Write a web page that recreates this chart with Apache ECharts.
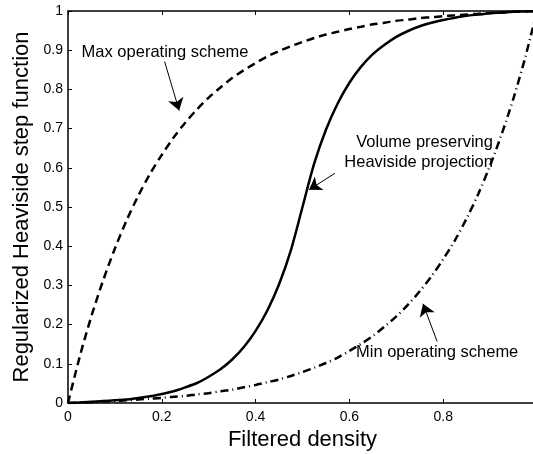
<!DOCTYPE html>
<html>
<head>
<meta charset="utf-8">
<script src="https://cdn.jsdelivr.net/npm/echarts@6/dist/echarts.min.js"></script>
<style>
  html, body { margin: 0; padding: 0; background: #fff; }
  #main { width: 533px; height: 454px; }
</style>
</head>
<body>
<div id="main"></div>
<script>
// filtered density samples
let xs = [0, 0.025, 0.05, 0.075, 0.1, 0.125, 0.15, 0.175, 0.2, 0.225, 0.25, 0.275, 0.3, 0.325, 0.35, 0.375,
  0.4, 0.425, 0.45, 0.475, 0.5, 0.525, 0.55, 0.575, 0.6, 0.625, 0.65, 0.675, 0.7, 0.725, 0.75, 0.775,
  0.8, 0.825, 0.85, 0.875, 0.9, 0.925, 0.95, 0.975, 1];

// max operating scheme (dashed)
let maxScheme = [0, 0.118, 0.222, 0.313, 0.394, 0.466, 0.529, 0.585, 0.633, 0.677, 0.715, 0.749, 0.779, 0.805, 0.829, 0.849,
  0.867, 0.884, 0.898, 0.910, 0.921, 0.931, 0.940, 0.947, 0.954, 0.960, 0.966, 0.970, 0.975, 0.978, 0.982, 0.984,
  0.987, 0.989, 0.991, 0.993, 0.995, 0.996, 0.998, 0.999, 1];

// min operating scheme (dash-dot)
let minScheme = [0, 0.001, 0.002, 0.004, 0.005, 0.007, 0.009, 0.011, 0.013, 0.016, 0.018, 0.022, 0.025, 0.030, 0.034, 0.040,
  0.046, 0.053, 0.060, 0.069, 0.079, 0.090, 0.102, 0.116, 0.133, 0.151, 0.171, 0.195, 0.221, 0.251, 0.285, 0.323,
  0.367, 0.415, 0.471, 0.534, 0.606, 0.687, 0.778, 0.882, 1];

// volume preserving heaviside projection (solid)
let volPreserving = [0, 0.001, 0.003, 0.005, 0.007, 0.009, 0.013, 0.017, 0.023, 0.030, 0.040, 0.051, 0.067, 0.086, 0.111, 0.143,
  0.184, 0.236, 0.303, 0.389, 0.5, 0.611, 0.697, 0.764, 0.817, 0.858, 0.890, 0.914, 0.934, 0.949, 0.961, 0.970,
  0.977, 0.983, 0.988, 0.991, 0.994, 0.996, 0.998, 0.999, 1];

let font = 'Liberation Sans, Arial, Helvetica, sans-serif';

let pairs = function (ys) {
  let res = [];
  for (let i = 0; i < xs.length; i++) {
    res.push([xs[i], ys[i]]);
  }
  return res;
};

let fmt = function (v) {
  return String(+v.toFixed(1));
};

let axisBase = {
  type: 'value',
  min: 0,
  max: 1,
  axisLine: { show: true, onZero: false, lineStyle: { color: '#000', width: 1.5 } },
  axisTick: { show: true, inside: true, length: 4, lineStyle: { color: '#000', width: 1 } },
  splitLine: { show: false }
};

// arrow + text annotations
let arrowMark = function (from, to) {
  return {
    silent: true,
    symbol: ['none', 'arrow'],
    symbolSize: 12,
    label: { show: false },
    lineStyle: { color: '#000', width: 1, type: 'solid' },
    data: [[{ coord: from }, { coord: to }]]
  };
};
let textMark = function (text, coord, pos) {
  return {
    silent: true,
    symbol: 'circle',
    symbolSize: 0,
    label: {
      show: true, position: pos, distance: 0, align: pos === 'left' ? 'right' : 'left',
      lineHeight: 20, fontFamily: font, fontSize: 16.5, color: '#000', formatter: text
    },
    data: [{ name: 'note', coord: coord }]
  };
};

let chart = echarts.init(document.getElementById('main'));
chart.setOption({
  animation: false,
  backgroundColor: '#fff',
  grid: {
    left: 68,
    top: 11,
    width: 469,
    height: 392,
    containLabel: false,
    outerBoundsMode: 'none'
  },
  xAxis: [
    Object.assign({}, axisBase, {
      position: 'bottom',
      interval: 0.2,
      name: 'Filtered density',
      nameLocation: 'middle',
      nameGap: 23,
      nameTextStyle: { fontFamily: font, fontSize: 22, color: '#000' },
      axisLabel: { show: true, showMaxLabel: false, margin: 7, fontFamily: font, fontSize: 14, color: '#000', formatter: fmt }
    }),
    Object.assign({}, axisBase, {
      position: 'top',
      interval: 0.2,
      axisLabel: { show: false }
    })
  ],
  yAxis: [
    Object.assign({}, axisBase, {
      position: 'left',
      interval: 0.1,
      name: 'Regularized Heaviside step function',
      nameLocation: 'middle',
      nameRotate: 90,
      nameGap: 31,
      nameTextStyle: { fontFamily: font, fontSize: 22, color: '#000' },
      axisLabel: { show: true, margin: 5, fontFamily: font, fontSize: 14, color: '#000', formatter: fmt }
    }),
    Object.assign({}, axisBase, {
      position: 'right',
      interval: 0.1,
      axisLabel: { show: false }
    })
  ],
  series: [
    {
      name: 'Max operating scheme',
      type: 'line',
      showSymbol: false,
      smooth: 0.3,
      lineStyle: { color: '#000', width: 2.5, type: [8, 5] },
      data: pairs(maxScheme),
      markLine: arrowMark([0.206, 0.871], [0.237, 0.746]),
      markPoint: textMark('Max operating scheme', [0.029, 0.893], 'right')
    },
    {
      name: 'Volume preserving Heaviside projection',
      type: 'line',
      showSymbol: false,
      smooth: 0.3,
      lineStyle: { color: '#000', width: 2.5, type: 'solid' },
      data: pairs(volPreserving),
      markLine: arrowMark([0.569, 0.586], [0.514, 0.544]),
      markPoint: textMark('Volume preserving\nHeaviside projection', [0.906, 0.638], 'left')
    },
    {
      name: 'Min operating scheme',
      type: 'line',
      showSymbol: false,
      smooth: 0.3,
      lineStyle: { color: '#000', width: 2.5, type: [8, 4, 1, 4] },
      data: pairs(minScheme),
      markLine: arrowMark([0.787, 0.157], [0.757, 0.253]),
      markPoint: textMark('Min operating scheme', [0.614, 0.129], 'right')
    }
  ]
});
</script>
</body>
</html>
